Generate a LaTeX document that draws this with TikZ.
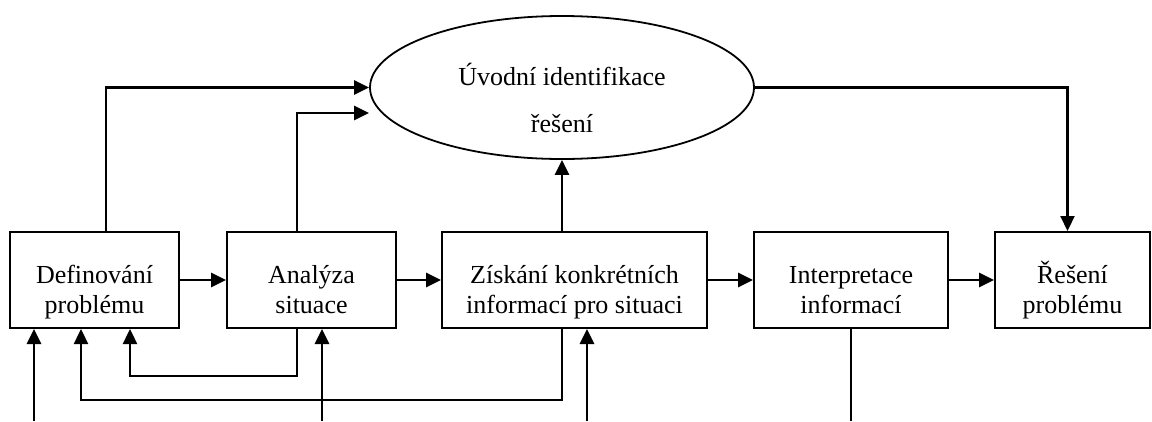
\documentclass[tikz,border=0pt]{standalone}
\usepackage{fontspec}
\setmainfont{Liberation Serif}
\usetikzlibrary{shapes.geometric,arrows.meta}
\newcommand\twolines[2]{\rule{0pt}{42pt}#1\\#2\rule[-6pt]{0pt}{6pt}}
\begin{document}
\begin{tikzpicture}[x=1pt,y=-1pt,
  box/.style={draw,line width=2pt,minimum height=96pt,inner sep=0pt,align=center,font=\fontsize{26}{30}\selectfont},
  oval/.style={draw,ellipse,line width=1.8pt,inner sep=0pt,align=center,font=\fontsize{26}{47}\selectfont},
  arr/.style={line width=2.8pt,-{Triangle[length=15pt,width=14pt]}},
  ln/.style={line width=2.8pt}]
\useasboundingbox (0,0) rectangle (1152,421);

\node[box,minimum width=169pt] (b1) at (94.5,280) {\twolines{Definování}{problému}};
\node[box,minimum width=169pt] (b2) at (311.5,280) {\twolines{Analýza}{situace}};
\node[box,minimum width=265pt] (b3) at (574.5,280) {\twolines{Získání konkrétních}{informací pro situaci}};
\node[box,minimum width=194pt] (b4) at (851,280) {\twolines{Interpretace}{informací}};
\node[box,minimum width=155pt] (b5) at (1072.5,280) {\twolines{Řešení}{problému}};

\node[oval,minimum width=384pt,minimum height=143pt] (e) at (562,87.5)
  {\rule{0pt}{44pt}Úvodní identifikace\\řešení\rule[-2pt]{0pt}{2pt}};

% horizontal flow
\draw[arr] (b1.east) -- (b2.west);
\draw[arr] (b2.east) -- (b3.west);
\draw[arr] (b3.east) -- (b4.west);
\draw[arr] (b4.east) -- (b5.west);

% upper connections
\draw[arr] ([xshift=97pt]b1.north west) |- (e.west);
\draw[arr] ([xshift=71pt]b2.north west) |- ([yshift=-25.5pt]e.west);
\draw[arr] (b3.north -| e.south) -- (e.south);
\draw[arr,line width=2.2pt] (e.east) -| ([xshift=-5pt]b5.north);

% lower connections
\coordinate (in1) at (34,421);
\coordinate (in2) at (322,421);
\coordinate (in3) at (587,421);
\coordinate (out4) at (851,421);
\coordinate (r1) at (0,400);
\coordinate (r2) at (0,376);
\coordinate (b1a) at ([xshift=72pt]b1.south west);
\coordinate (b1b) at ([xshift=121pt]b1.south west);
\coordinate (b2a) at ([xshift=71pt]b2.south west);
\coordinate (b3a) at ([xshift=121pt]b3.south west);

\draw[arr,line width=2.4pt] (b3a) -- (b3a |- r1) -- (b1a |- r1) -- (b1a);
\draw[arr,line width=2.4pt] (b2a) -- (b2a |- r2) -- (b1b |- r2) -- (b1b);
\draw[arr] (in1) -- (in1 |- b1.south);
\draw[arr] (in2) -- (in2 |- b2.south);
\draw[arr] (in3) -- (in3 |- b3.south);
\draw[ln] (b4.south -| out4) -- (out4);
\end{tikzpicture}
\end{document}
